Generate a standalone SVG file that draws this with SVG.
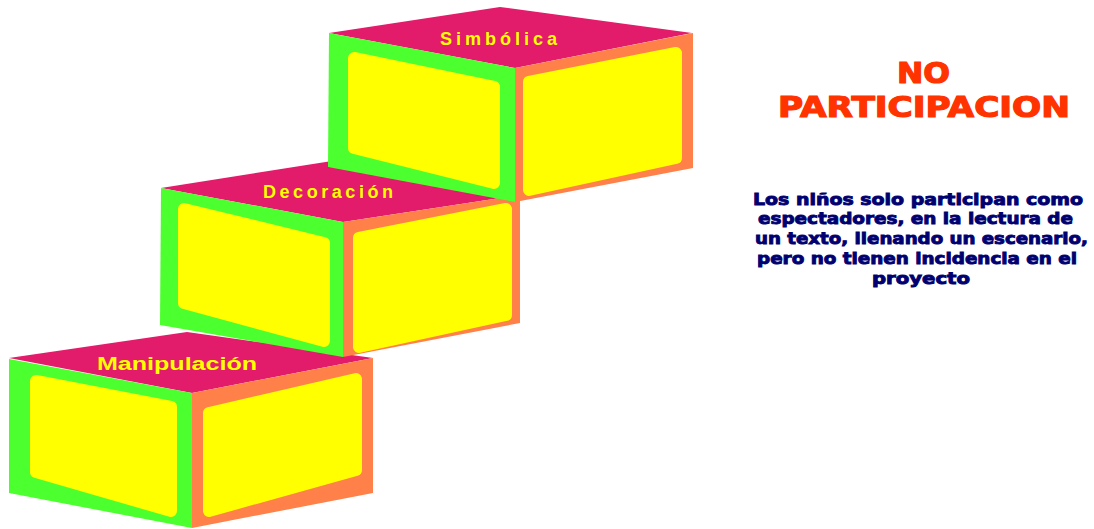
<svg xmlns="http://www.w3.org/2000/svg" width="1094" height="529" viewBox="0 0 1094 529">
<style>
.top{fill:#E31B6B}
.gr{fill:#4CFF2E}
.or{fill:#FF8048}
.ye{fill:#FFFF00;stroke:#FFFF00;stroke-width:12;stroke-linejoin:round}
.lbl{font-family:"Liberation Sans",Arial,sans-serif;font-weight:bold;fill:#FFFF00;font-size:18px}
.title{font-family:"DejaVu Sans","Liberation Sans",sans-serif;font-weight:bold;fill:#FF3300;stroke:#FF3300;stroke-width:1.2;font-size:29px}
.body{font-family:"DejaVu Sans","Liberation Sans",sans-serif;font-weight:bold;fill:#000070;stroke:#000070;stroke-width:0.9;font-size:16px}
</style>
<rect width="1094" height="529" fill="#FFFFFF"/>
<g id="cube-manipulacion">
<polygon class="top" points="9,358 187,332 373,358 192,393"/>
<polygon class="gr" points="9,359 192,393 192,528 9,493"/>
<polygon class="or" points="192,393 373,358 373,493 192,528"/>
<polygon class="ye" points="36,381 171,407 171,511 36,472"/>
<polygon class="ye" points="209,413 356,379 356,470 209,511"/>
<text class="lbl" x="97" y="370" font-size="20" textLength="160" lengthAdjust="spacingAndGlyphs">Manipulación</text>
</g>
<g id="cube-decoracion">
<polygon class="top" points="161,188 332,161 520,195 343,222"/>
<polygon class="gr" points="161,188 343,222 343,357 160,325"/>
<polygon class="or" points="343,222 520,195 520,323 343,357"/>
<polygon class="ye" points="184,209 324,243 324,341 184,303"/>
<polygon class="ye" points="359,238 506,209 506,315 359,347"/>
<text class="lbl" x="263" y="198" textLength="130" lengthAdjust="spacing">Decoración</text>
</g>
<g id="cube-simbolica">
<polygon class="top" points="329,33 500,7 692,33 515,68"/>
<polygon class="gr" points="329,33 515,68 515,202 328,167"/>
<polygon class="or" points="515,68 693,33 693,168 515,202"/>
<polygon class="ye" points="354,58 494,87 494,183 354,148"/>
<polygon class="ye" points="529,82 676,53 676,158 529,190"/>
<text class="lbl" x="440" y="45" textLength="117" lengthAdjust="spacing">Simbólica</text>
</g>
<g id="title">
<text class="title" x="897" y="83" textLength="53" lengthAdjust="spacingAndGlyphs">NO</text>
<text class="title" x="778" y="117" textLength="292" lengthAdjust="spacingAndGlyphs">PARTICIPACION</text>
</g>
<g id="description">
<text class="body" x="753" y="205" textLength="330" lengthAdjust="spacingAndGlyphs">Los niños solo  participan como</text>
<text class="body" x="758" y="224" textLength="315" lengthAdjust="spacingAndGlyphs">espectadores, en la lectura de</text>
<text class="body" x="755" y="244" textLength="333" lengthAdjust="spacingAndGlyphs">un texto, llenando un escenario,</text>
<text class="body" x="757" y="264" textLength="320" lengthAdjust="spacingAndGlyphs">pero no tienen incidencia en el</text>
<text class="body" x="872" y="284" textLength="98" lengthAdjust="spacingAndGlyphs">proyecto</text>
</g>
</svg>
